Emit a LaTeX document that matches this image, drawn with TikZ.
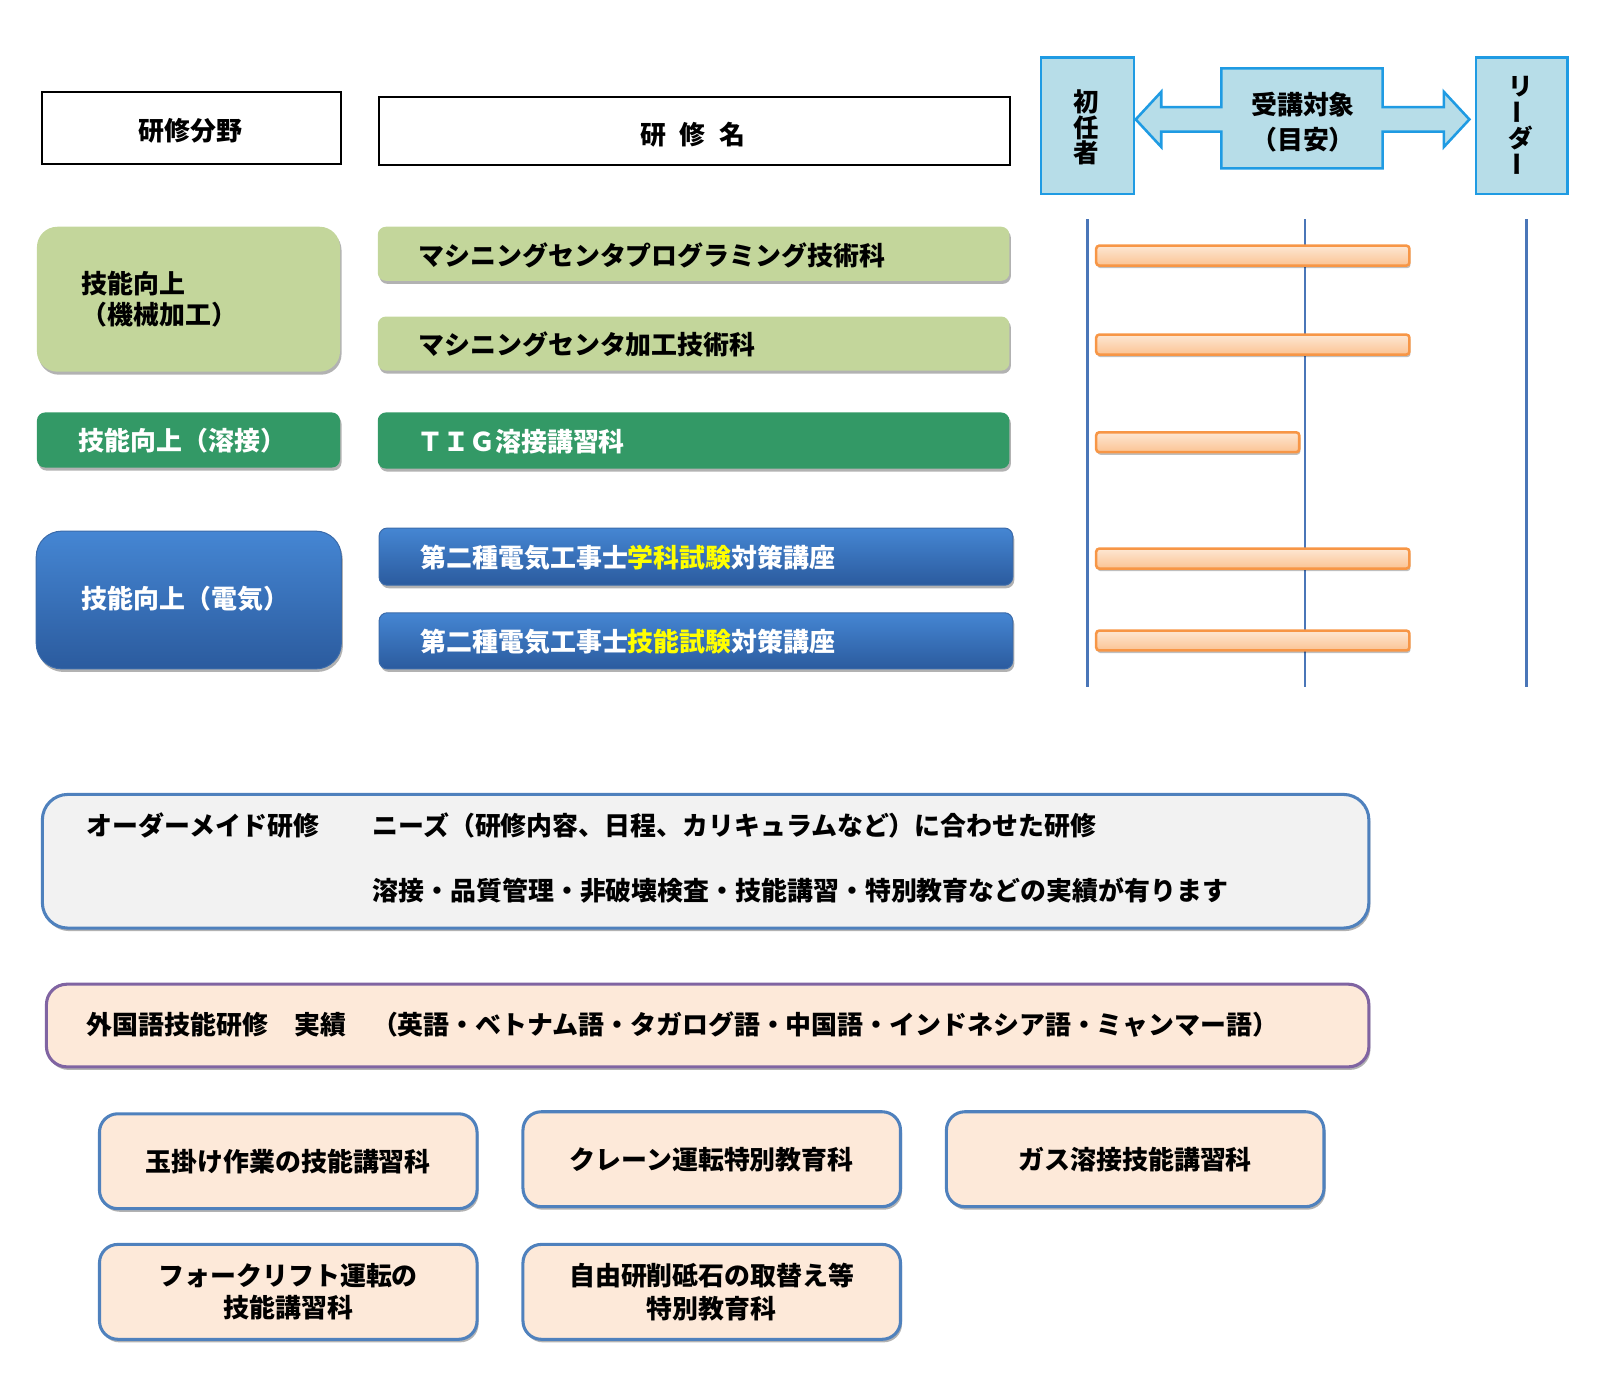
\documentclass[tikz,border=0pt]{standalone}
\usepackage{fontspec}
\setmainfont{Noto Sans CJK JP}
\usetikzlibrary{shadows}
\definecolor{lgreen}{HTML}{C3D69B}
\definecolor{dgreen}{HTML}{339966}
\definecolor{hdrfill}{HTML}{B7DDE8}
\definecolor{hdrline}{HTML}{1F9BE3}
\definecolor{vline}{HTML}{4A76B8}
\definecolor{orline}{HTML}{F79646}
\definecolor{ortop}{HTML}{FDE7D3}
\definecolor{orbot}{HTML}{FBC393}
\definecolor{bluetop}{HTML}{4586D3}
\definecolor{bluebot}{HTML}{2B5B9E}
\definecolor{blueedge}{HTML}{3B6BAA}
\definecolor{grayfill}{HTML}{F2F2F2}
\definecolor{boxline}{HTML}{4F81BD}
\definecolor{peach}{HTML}{FDE9D9}
\definecolor{purp}{HTML}{8064A2}
\definecolor{yel}{HTML}{FFFF00}
\newcommand{\vbar}{\rotatebox[origin=c]{90}{ー}}
\begin{document}
\begin{tikzpicture}[x=1pt,y=-1pt,
  txt/.style={inner sep=0pt,font=\fontsize{25.4}{30}\selectfont\bfseries},
  sh/.style={drop shadow={shadow xshift=1.5pt,shadow yshift=-3pt,opacity=0.3,fill=black}},
  nw/.style={anchor=north west,inner sep=0pt},
  hdrbox/.style={nw,draw=black,line width=2pt,fill=white},
  tgtbox/.style={nw,draw=hdrline,line width=2.5pt,fill=hdrfill},
  vtxt/.style={inner sep=0pt,align=center,font=\fontsize{25}{25}\selectfont\bfseries},
  lgbox/.style={nw,fill=lgreen,rounded corners=8pt,sh},
  dgbox/.style={nw,fill=dgreen,rounded corners=8pt,sh},
  bluebox/.style={nw,top color=bluetop,bottom color=bluebot,draw=blueedge,line width=1pt,rounded corners=8pt,sh},
  barbox/.style={nw,top color=ortop,bottom color=orbot,draw=orline,line width=2.5pt,rounded corners=3pt,minimum height=19.5pt,drop shadow={shadow xshift=1pt,shadow yshift=-2.5pt,opacity=0.25,fill=black}},
  vl/.style={draw=vline,line width=2.5pt},
  orderbox/.style={nw,fill=grayfill,draw=boxline,line width=3pt,rounded corners=25pt,sh},
  frnbox/.style={nw,fill=peach,draw=purp,line width=3pt,rounded corners=20pt,sh},
  smallbox/.style={nw,fill=peach,draw=boxline,line width=3pt,rounded corners=18pt,sh,minimum width=370pt,minimum height=93pt,align=center,font=\fontsize{25.4}{32}\selectfont\bfseries},
  wtxt/.style={txt,text=white}
]
\useasboundingbox (0,0) rectangle (1568,1369);

% header
\node[hdrbox,minimum width=293pt,minimum height=71pt] (hfield) at (40,89) {};
\node[txt] (thfield) at (187,128) {研修分野};
\node[hdrbox,minimum width=619pt,minimum height=67pt] (hname) at (370,94) {};
\node[txt] (thname) at (679,132) {研\hspace{13pt}修\hspace{13pt}名};

\node[tgtbox,minimum width=91pt,minimum height=134pt] (shonin) at (1019,55) {};
\node[vtxt] (tshonin) at (1065,125) {初\\任\\者};
\node[tgtbox,minimum width=90pt,minimum height=134pt] (leader) at (1445,55) {};
\node[vtxt,font=\fontsize{24}{22.3}\selectfont\bfseries] (tleader) at (1490,124) {リ\\\vbar\\ダ\\\vbar};

\draw[draw=hdrline,line width=2.5pt,fill=hdrfill,line join=miter]
  (1197,67) -- (1355,67) -- (1355,105) -- (1415,105) -- (1415,90) -- (1440,117)
  -- (1415,144) -- (1415,129) -- (1355,129) -- (1355,165) -- (1197,165) -- (1197,129)
  -- (1138,129) -- (1138,144) -- (1113,117) -- (1138,90) -- (1138,105) -- (1197,105) -- cycle;
\node[txt] (ttaisho) at (1277,103) {受講対象};
\node[txt] (tmeyasu) at (1277,137) {（目安）};

% vertical lines
\coordinate (l1t) at (1066,215); \coordinate (l1b) at (1066,673);
\coordinate (l2t) at (1279,215); \coordinate (l2b) at (1279,673);
\coordinate (l3t) at (1496,215); \coordinate (l3b) at (1496,673);
\draw[vl] (l1t) -- (l1b);
\draw[vl] (l2t) -- (l2b);
\draw[vl] (l3t) -- (l3b);

% bars
\node[barbox,minimum width=307pt] (b1) at (1073,239.5) {};
\node[barbox,minimum width=307pt] (b2) at (1073,326.7) {};
\node[barbox,minimum width=199pt] (b3) at (1073,422.4) {};
\node[barbox,minimum width=307pt] (b4) at (1073,536.4) {};
\node[barbox,minimum width=307pt] (b5) at (1073,616.7) {};

% left column / courses
\node[lgbox,minimum width=297pt,minimum height=142pt,rounded corners=20pt] (fmech) at (36,222) {};
\node[txt,anchor=west,align=left] (tfmech) at (80,293) {技能向上\\（機械加工）};
\node[lgbox,minimum width=619pt,minimum height=53pt] (c1) at (370,222) {};
\node[txt,anchor=west] (tc1) at (410,250) {マシニングセンタプログラミング技術科};
\node[lgbox,minimum width=619pt,minimum height=53pt] (c2) at (370,310) {};
\node[txt,anchor=west] (tc2) at (410,338) {マシニングセンタ加工技術科};

\node[dgbox,minimum width=297pt,minimum height=54pt] (fweld) at (36,404) {};
\node[wtxt,anchor=west] (tfweld) at (77,432) {技能向上（溶接）};
\node[dgbox,minimum width=619pt,minimum height=55pt] (c3) at (370,404) {};
\node[wtxt,anchor=west] (tc3) at (409,433) {ＴＩＧ溶接講習科};

\node[bluebox,minimum width=299pt,minimum height=135pt,rounded corners=25pt] (felec) at (35,520) {};
\node[wtxt,anchor=west] (tfelec) at (80,587) {技能向上（電気）};
\node[bluebox,minimum width=621pt,minimum height=56pt] (c4) at (371,517) {};
\node[wtxt,anchor=west] (tc4) at (412,547) {第二種電気工事士\textcolor{yel}{学科試験}対策講座};
\node[bluebox,minimum width=621pt,minimum height=55pt] (c5) at (371,600) {};
\node[wtxt,anchor=west] (tc5) at (412,629) {第二種電気工事士\textcolor{yel}{技能試験}対策講座};

% order-made
\node[orderbox,minimum width=1300pt,minimum height=131pt] (ord) at (40,777) {};
\node[txt,anchor=west] (tord1) at (85,809) {オーダーメイド研修};
\node[txt,anchor=west] (tord2) at (365,809) {ニーズ（研修内容、日程、カリキュラムなど）に合わせた研修};
\node[txt,anchor=west] (tord3) at (365,873) {溶接・品質管理・非破壊検査・技能講習・特別教育などの実績が有ります};

% foreign language
\node[frnbox,minimum width=1296pt,minimum height=81pt] (frn) at (44,963) {};
\node[txt,anchor=west] (tfrn) at (85,1004) {外国語技能研修　実績　（英語・ベトナム語・タガログ語・中国語・インドネシア語・ミャンマー語）};

% small boxes
\node[smallbox] (s1) at (96,1090) {玉掛け作業の技能講習科};
\node[smallbox] (s2) at (511,1088) {クレーン運転特別教育科};
\node[smallbox] (s3) at (926,1088) {ガス溶接技能講習科};
\node[smallbox] (s4) at (96,1218) {フォークリフト運転の\\技能講習科};
\node[smallbox] (s5) at (511,1218) {自由研削砥石の取替え等\\特別教育科};
\end{tikzpicture}
\end{document}
